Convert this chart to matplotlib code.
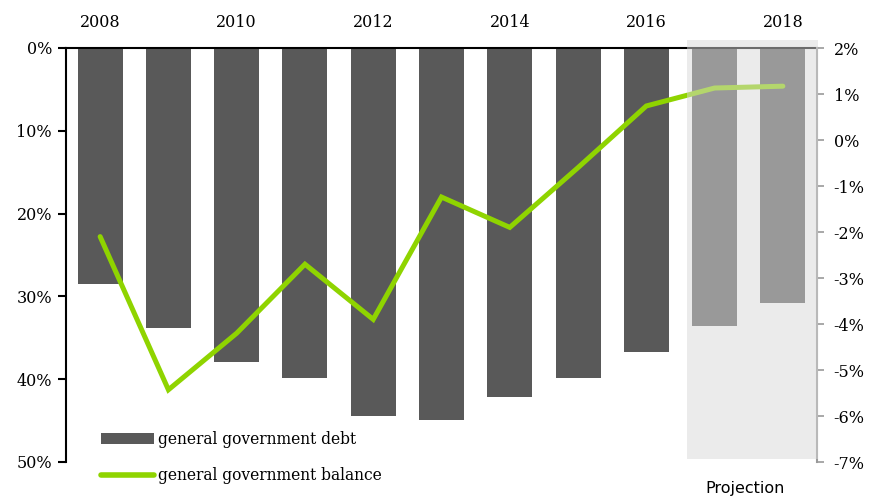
import matplotlib
matplotlib.use("Agg")
import matplotlib.pyplot as plt
from matplotlib.patches import Rectangle
from matplotlib.lines import Line2D
import matplotlib.transforms as mtransforms

years = [2008, 2009, 2010, 2011, 2012, 2013, 2014, 2015, 2016, 2017, 2018]
debt = [28.5, 33.8, 37.9, 39.9, 44.4, 44.9, 42.1, 39.9, 36.7, 33.6, 30.8]
balance = [-2.1, -5.43, -4.2, -2.7, -3.9, -1.24, -1.9, -0.6, 0.74, 1.13, 1.17]
year_labels = ["2008", "", "2010", "", "2012", "", "2014", "", "2016", "", "2018"]
left_ticks = [0, 10, 20, 30, 40, 50]
right_ticks = [2, 1, 0, -1, -2, -3, -4, -5, -6, -7]

serif = ["DejaVu Serif"]
bar_color = "#595959"
line_color = "#8fd400"

fig = plt.figure(figsize=(8.72, 4.97), dpi=100)
ax = fig.add_axes([66/872, 1-462/497, (817-66)/872, (462-48)/497])
x = list(range(len(years)))
ax.bar(x, debt, width=0.66, color=bar_color, zorder=2)
ax.set_ylim(50, 0)
ax.set_xlim(-0.5, len(years) - 0.5)
ax.set_yticks(left_ticks)
ax.set_yticklabels([f"{v}%" for v in left_ticks], fontfamily=serif, fontsize=11.5)
ax.xaxis.tick_top()
ax.set_xticks(x)
ax.set_xticklabels(year_labels, fontfamily=serif, fontsize=11.5)
ax.tick_params(axis="x", length=0, pad=12)
ax.tick_params(axis="y", length=6, width=1.5, color="black", pad=4)
for s in ["bottom", "right"]:
    ax.spines[s].set_visible(False)
ax.spines["left"].set_linewidth(1.5)
ax.spines["top"].set_linewidth(1.5)

ax2 = ax.twinx()
ax2.plot(x, balance, color=line_color, lw=3.6, solid_capstyle="round", solid_joinstyle="miter", zorder=3)
ax2.set_ylim(-7, 2)
ax2.set_yticks(right_ticks)
ax2.set_yticklabels([f"{v}%" for v in right_ticks], fontfamily=serif, fontsize=11.5)
ax2.tick_params(axis="y", length=5, width=1.2, color="#999999", pad=7)
for s in ["top", "bottom", "left"]:
    ax2.spines[s].set_visible(False)
ax2.spines["right"].set_color("#999999")
ax2.spines["right"].set_linewidth(1.5)

trans = mtransforms.blended_transform_factory(ax2.transData, ax2.transAxes)
rect = Rectangle((8.6, (462-459)/414), 10.52 - 8.6, (459-40)/414, transform=trans,
                 facecolor="#d9d9d9", alpha=0.5, edgecolor="none", clip_on=False, zorder=10)
ax2.add_patch(rect)

fig.text(745/872, 1-488/497, "Projection", ha="center", va="center",
         fontfamily=["DejaVu Sans"], fontsize=11.5)

handles = [Rectangle((0, 0), 1, 1, facecolor=bar_color),
           Line2D([0], [0], color=line_color, lw=4, solid_capstyle="round")]
fig.legend(handles, ["general government debt", "general government balance"],
           loc="upper left", bbox_to_anchor=(93/872, 1-423/497), frameon=False,
           prop={"family": serif, "size": 11.2}, handlelength=3.4, handleheight=0.7,
           handletextpad=0.3, labelspacing=1.25, borderpad=0)

fig.savefig("out.png", dpi=100)
